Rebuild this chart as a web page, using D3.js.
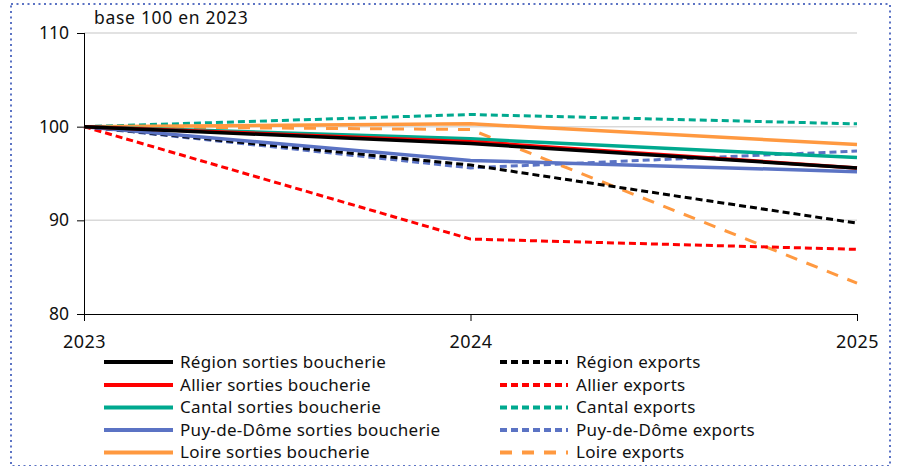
<!DOCTYPE html>
<html>
<head>
<meta charset="utf-8">
<script src="https://cdn.jsdelivr.net/npm/d3@7"></script>
<style>
  body { margin: 0; background: #fff; }
  svg { font-family: "Noto Sans", sans-serif; }
</style>
</head>
<body>
<div id="chart"></div>
<script>
// Chart data, base 100 in 2023.
var years = [2023, 2024, 2025];
var yTicks = [80, 90, 100, 110];
var names = ["Région", "Allier", "Cantal", "Puy-de-Dôme", "Loire"];
var colors = ["#000000", "#ff0000", "#00a98f", "#5b73c4", "#ff9940"];
var sortiesValues = [
    [100, 98.2, 95.6],
    [100, 98.4, 95.6],
    [100, 98.7, 96.7],
    [100, 96.4, 95.2],
    [100, 100.3, 98.1]
];
var exportsValues = [
    [100, 95.9, 89.7],
    [100, 88.0, 86.9],
    [100, 101.3, 100.3],
    [100, 95.6, 97.4],
    [100, 99.7, 83.3]
];

var W = 900, H = 466;
var svg = d3.select("#chart").append("svg")
    .attr("width", W)
    .attr("height", H);

// dotted frame
svg.append("rect")
    .attr("x", 11).attr("y", 4)
    .attr("width", 879).attr("height", 462)
    .attr("fill", "none")
    .attr("stroke", "#5b73c4")
    .attr("stroke-width", 2)
    .attr("stroke-dasharray", "2,3.5");

var x = d3.scaleLinear().domain([2023, 2025]).range([84, 857]);
var y = d3.scaleLinear().domain([80, 110]).range([314, 33]);

// gridlines
svg.selectAll(".grid").data(yTicks.filter(function(d){ return d > 80; }))
    .enter().append("line")
    .attr("x1", 84).attr("x2", 857)
    .attr("y1", function(d){ return y(d); })
    .attr("y2", function(d){ return y(d); })
    .attr("stroke", "#d9d9d9")
    .attr("stroke-width", 1.5);

// y axis
var yAxis = svg.append("g")
    .attr("transform", "translate(84,0)")
    .call(d3.axisLeft(y).tickValues(yTicks).tickSize(7).tickPadding(8).tickFormat(d3.format("d")));
yAxis.select(".domain").attr("d", "M0.5," + y(110) + "V" + (y(80) + 7));
yAxis.selectAll("text").attr("font-size", 17.5).attr("fill", "#111")
    .attr("font-family", "'Noto Sans', sans-serif");

// x axis
var xAxis = svg.append("g")
    .attr("transform", "translate(0," + y(80) + ")")
    .call(d3.axisBottom(x).tickValues(years).tickSize(7).tickPadding(14).tickFormat(d3.format("d")));
xAxis.select(".domain").attr("d", "M77,0.5H857");
xAxis.selectAll("text").attr("font-size", 18).attr("fill", "#111")
    .attr("letter-spacing", 0.5)
    .attr("font-family", "'Noto Sans', sans-serif");
svg.selectAll(".tick line").attr("stroke", "#000");

svg.append("text")
    .attr("x", 94).attr("y", 24)
    .attr("font-size", 17.5)
    .attr("letter-spacing", 0.7)
    .attr("fill", "#111")
    .text("base 100 en 2023");

var line = d3.line()
    .x(function(d, i){ return x(years[i]); })
    .y(function(d){ return y(d); });

function dashFor(i){
    return i == 4 ? "12,10" : "7,4";
}

// draw exports first then sorties, back to front like the reference
var order = [4, 3, 2, 1, 0];
order.forEach(function(i){
    svg.append("path")
        .datum(exportsValues[i])
        .attr("d", line)
        .attr("fill", "none")
        .attr("stroke", colors[i])
        .attr("stroke-width", 3)
        .attr("stroke-dasharray", dashFor(i));
});
order.forEach(function(i){
    svg.append("path")
        .datum(sortiesValues[i])
        .attr("d", line)
        .attr("fill", "none")
        .attr("stroke", colors[i])
        .attr("stroke-width", 3.5);
});

// legend
var rowY = [362, 385, 407.5, 430, 452.5];
names.forEach(function(n, i){
    var g = svg.append("g");
    g.append("line")
        .attr("x1", 104).attr("x2", 173)
        .attr("y1", rowY[i]).attr("y2", rowY[i])
        .attr("stroke", colors[i]).attr("stroke-width", 4);
    g.append("text")
        .attr("x", 180).attr("y", rowY[i])
        .attr("dy", "0.35em")
        .attr("font-size", 17)
        .attr("letter-spacing", 0.3)
        .attr("fill", "#111")
        .text(n + " sorties boucherie");
    g.append("line")
        .attr("x1", 500).attr("x2", 568)
        .attr("y1", rowY[i]).attr("y2", rowY[i])
        .attr("stroke", colors[i]).attr("stroke-width", 4)
        .attr("stroke-dasharray", dashFor(i));
    g.append("text")
        .attr("x", 576).attr("y", rowY[i])
        .attr("dy", "0.35em")
        .attr("font-size", 17)
        .attr("letter-spacing", 0.3)
        .attr("fill", "#111")
        .text(n + " exports");
});
</script>
</body>
</html>
